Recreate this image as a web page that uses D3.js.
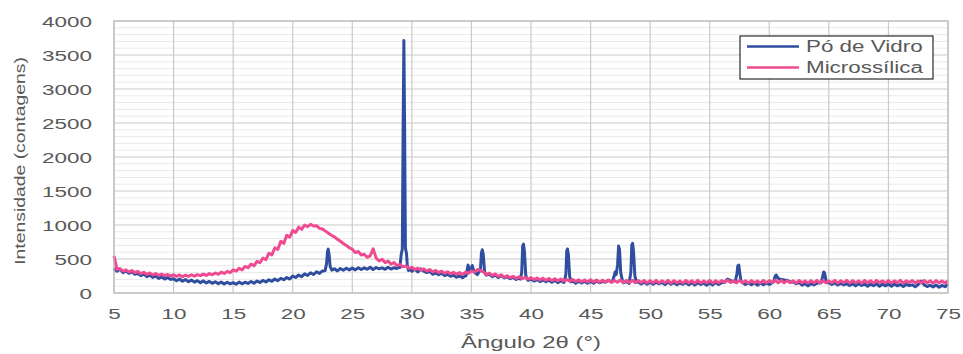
<!DOCTYPE html>
<html>
<head>
<meta charset="utf-8">
<script src="https://cdn.jsdelivr.net/npm/d3@7"></script>
<style>
  body { margin: 0; background: #fff; }
  svg { display: block; }
  .tick-label { font-family: "Liberation Sans", Arial, sans-serif; fill: #595959; }
</style>
</head>
<body>
<svg id="chart" width="963" height="354"></svg>
<script>
// 2θ grid: 5° .. 75° in steps of 0.25°
const angleGrid = d3.range(0, 281).map(i => 5 + i * 0.25);

// Pó de Vidro, background
const vidroBase = [
  365, 320, 350, 300, 325, 290, 310, 275, 290, 255, 280, 240, 262, 230, 250, 215, 238, 205, 228, 200,
  210, 180, 205, 172, 198, 165, 190, 160, 182, 152, 178, 148, 170, 142, 165, 138, 160, 132, 158, 135,
  152, 128, 160, 135, 158, 140, 170, 145, 175, 155, 185, 162, 195, 172, 205, 182, 215, 195, 228, 205,
  250, 228, 265, 240, 282, 258, 298, 272, 312, 288, 325, 300, 330, 320, 355, 325, 360, 335, 365, 340,
  368, 340, 372, 345, 370, 350, 378, 345, 375, 355, 370, 348, 378, 352, 372, 360, 385, 355, 375, 365,
  320, 350, 310, 355, 320, 300, 318, 275, 295, 268, 290, 255, 275, 245, 262, 232, 250, 225, 255, 250,
  300, 310, 270, 300, 310, 262, 275, 240, 262, 228, 255, 222, 240, 210, 230, 200, 220, 195, 212, 185,
  205, 175, 200, 168, 192, 165, 188, 158, 185, 152, 182, 155, 178, 150, 175, 145, 172, 148, 170, 142,
  172, 145, 175, 150, 168, 160, 185, 162, 190, 158, 180, 150, 170, 140, 165, 135, 162, 132, 160, 130,
  160, 128, 158, 135, 155, 125, 160, 130, 155, 122, 150, 128, 155, 120, 152, 118, 150, 125, 148, 115,
  150, 118, 155, 125, 150, 160, 205, 180, 165, 160, 160, 155, 125, 148, 120, 150, 115, 148, 122, 145,
  125, 152, 230, 220, 200, 190, 188, 160, 165, 135, 155, 115, 140, 105, 138, 120, 145, 150, 250, 200,
  155, 125, 148, 118, 140, 120, 138, 110, 135, 105, 138, 112, 132, 100, 130, 108, 135, 98, 128, 105,
  130, 98, 132, 105, 125, 95, 128, 108, 120, 92, 125, 175, 120, 95, 115, 90, 118, 85, 112, 92,
  130
];

// Pó de Vidro, crystalline peaks (finer sampling)
const vidroPeakAngles = [
  [22.72, 22.84, 22.92, 22.98, 23.05, 23.14, 23.28],
  [29.0, 29.1, 29.2, 29.27, 29.33, 29.39, 29.46, 29.55, 29.62, 29.72],
  [34.55, 34.63, 34.72, 34.84, 34.95, 35.07, 35.2, 35.35],
  [35.6, 35.75, 35.84, 35.91, 35.99, 36.1, 36.2],
  [39.1, 39.22, 39.3, 39.37, 39.45, 39.56, 39.68],
  [42.8, 42.93, 43.0, 43.06, 43.14, 43.24, 43.36],
  [46.85, 46.98, 47.06, 47.15, 47.27, 47.35, 47.43, 47.53, 47.68],
  [48.25, 48.38, 48.46, 48.53, 48.6, 48.72, 48.85],
  [57.15, 57.28, 57.36, 57.44, 57.52, 57.62, 57.72],
  [60.35, 60.48, 60.58, 60.7, 60.85],
  [64.35, 64.48, 64.57, 64.65, 64.76, 64.9]
];
const vidroPeakValues = [
  [328, 430, 610, 645, 570, 390, 336],
  [375, 560, 650, 2500, 3715, 2500, 660, 580, 400, 330],
  [255, 330, 410, 320, 350, 405, 320, 290],
  [300, 335, 590, 635, 570, 320, 270],
  [205, 300, 690, 718, 610, 260, 200],
  [165, 280, 620, 648, 560, 250, 165],
  [180, 250, 310, 270, 420, 690, 640, 300, 175],
  [165, 300, 700, 730, 620, 250, 160],
  [170, 280, 400, 410, 300, 180, 150],
  [160, 240, 265, 225, 205],
  [150, 240, 310, 290, 180, 150]
];

// Microssílica (amorphous hump around 21°)
const microValues = [
  545, 345, 360, 320, 340, 310, 330, 298, 318, 285, 305, 275, 295, 268, 285, 260, 278, 255, 272, 250,
  268, 245, 265, 240, 262, 245, 268, 248, 270, 255, 278, 258, 285, 268, 295, 275, 305, 288, 318, 298,
  340, 322, 362, 340, 390, 372, 425, 400, 465, 445, 515, 490, 585, 560, 665, 640, 760, 730, 848, 820,
  920, 890, 968, 935, 1000, 975, 1010, 985, 990, 950, 940, 910, 880, 850, 825, 790, 760, 728, 700, 665,
  645, 595, 610, 560, 570, 525, 545, 650, 515, 470, 495, 448, 470, 425, 448, 402, 420, 385, 398, 362,
  378, 345, 365, 335, 355, 322, 345, 310, 332, 300, 322, 290, 312, 282, 305, 275, 300, 272, 305, 290,
  325, 305, 345, 335, 310, 270, 292, 258, 280, 245, 268, 232, 255, 225, 245, 215, 238, 208, 232, 202,
  225, 198, 220, 192, 215, 188, 212, 182, 208, 180, 205, 175, 200, 172, 198, 168, 195, 165, 192, 162,
  195, 162, 190, 158, 188, 160, 192, 155, 185, 158, 190, 152, 185, 155, 188, 150, 182, 155, 185, 148,
  182, 150, 185, 148, 180, 152, 185, 145, 182, 150, 178, 146, 184, 150, 180, 145, 185, 148, 178, 150,
  184, 145, 180, 150, 182, 158, 190, 155, 180, 148, 185, 150, 180, 146, 182, 150, 178, 148, 184, 152,
  182, 155, 190, 150, 185, 148, 182, 152, 180, 145, 184, 150, 178, 148, 182, 150, 186, 145, 180, 152,
  178, 150, 184, 146, 180, 152, 185, 148, 182, 150, 178, 145, 184, 150, 180, 146, 185, 152, 178, 150,
  182, 148, 178, 152, 185, 146, 180, 155, 182, 150, 178, 148, 184, 152, 180, 146, 182, 150, 178, 148,
  180
];

const seriesNames = ["Pó de Vidro", "Microssílica"];
const seriesColors = ["#2f4e9f", "#ee4b91"];
const xTicks = d3.range(5, 76, 5);
const yTicks = d3.range(0, 4001, 500);
const yMinorTicks = d3.range(0, 4001, 100);

const LEFT = 114, RIGHT = 948, TOP = 21, BOTTOM = 293;
const SX = 1.45; // the picture is stretched horizontally, text included

const svg = d3.select("#chart");

const x = d3.scaleLinear().domain([5, 75]).range([LEFT, RIGHT]);
const y = d3.scaleLinear().domain([0, 4000]).range([BOTTOM, TOP]);

const mergePeaks = (grid, base, peakA, peakV) => {
  const windows = peakA.map(a => [d3.min(a), d3.max(a)]);
  const pts = grid.map((a, i) => [a, base[i]])
    .filter(([a]) => !windows.some(([lo, hi]) => a > lo && a < hi));
  peakA.forEach((g, j) => g.forEach((a, k) => pts.push([a, peakV[j][k]])));
  return pts.sort((p, q) => p[0] - q[0]);
};

const vidro = mergePeaks(angleGrid, vidroBase, vidroPeakAngles, vidroPeakValues);
const micro = angleGrid.map((a, i) => [a, microValues[i]]);

// grid
const grid = svg.append("g");
grid.selectAll("line.minor").data(yMinorTicks.filter(v => v % 500 !== 0)).enter()
  .append("line").attr("class", "minor")
  .attr("x1", LEFT).attr("x2", RIGHT)
  .attr("y1", d => y(d)).attr("y2", d => y(d))
  .attr("stroke", "#e9e9e9").attr("stroke-width", 1);
grid.selectAll("line.major").data(yTicks).enter()
  .append("line").attr("class", "major")
  .attr("x1", LEFT).attr("x2", RIGHT)
  .attr("y1", d => y(d)).attr("y2", d => y(d))
  .attr("stroke", "#cacaca").attr("stroke-width", 1.2);
grid.selectAll("line.vert").data(xTicks).enter()
  .append("line").attr("class", "vert")
  .attr("x1", d => x(d)).attr("x2", d => x(d))
  .attr("y1", TOP).attr("y2", BOTTOM)
  .attr("stroke", "#cacaca").attr("stroke-width", 1.2);

// series
const line = d3.line().x(d => x(d[0])).y(d => y(d[1]));
[vidro, micro].forEach((data, i) => {
  svg.append("path")
    .datum(data)
    .attr("d", line)
    .attr("fill", "none")
    .attr("stroke", seriesColors[i])
    .attr("stroke-width", 3)
    .attr("stroke-linejoin", "round");
});

// tick labels
const yAxis = svg.append("g").attr("transform", `translate(${LEFT},0)`)
  .call(d3.axisLeft(y).tickValues(yTicks).tickSize(0).tickFormat(d3.format("d")));
yAxis.select(".domain").remove();
yAxis.selectAll("text")
  .attr("class", "tick-label")
  .attr("x", 0).attr("dy", "0.35em")
  .attr("transform", `translate(-22,0) scale(${SX},1)`)
  .style("font-size", "15.5px");

const xAxis = svg.append("g").attr("transform", `translate(0,${BOTTOM})`)
  .call(d3.axisBottom(x).tickValues(xTicks).tickSize(0));
xAxis.select(".domain").remove();
xAxis.selectAll("text")
  .attr("class", "tick-label")
  .attr("y", 0).attr("dy", 0)
  .attr("transform", `translate(0,25.5) scale(${SX},1)`)
  .style("font-size", "15.5px");

svg.selectAll("g.tick text").attr("fill", "#595959").style("font-family", '"Liberation Sans", Arial, sans-serif');

// plot border
svg.append("rect")
  .attr("x", LEFT).attr("y", TOP)
  .attr("width", RIGHT - LEFT).attr("height", BOTTOM - TOP)
  .attr("fill", "none").attr("stroke", "#bdbdbd").attr("stroke-width", 1.2);

// axis titles
svg.append("text")
  .attr("class", "tick-label")
  .attr("text-anchor", "middle")
  .attr("transform", `translate(${(LEFT + RIGHT) / 2},348) scale(${SX},1)`)
  .style("font-size", "16.5px")
  .text("Ângulo  2θ (°)");

svg.append("text")
  .attr("class", "tick-label")
  .attr("text-anchor", "middle")
  .attr("transform", `translate(24.5,161) rotate(-90) scale(1.25,1)`)
  .style("font-size", "15.5px")
  .text("Intensidade (contagens)");

// legend
const legend = svg.append("g").attr("transform", "translate(740,36)");
legend.append("rect")
  .attr("width", 193).attr("height", 43)
  .attr("fill", "#fff").attr("stroke", "#000").attr("stroke-width", 1);
seriesNames.forEach((name, i) => {
  const row = legend.append("g").attr("transform", `translate(0,${10.5 + i * 21})`);
  row.append("line")
    .attr("x1", 7).attr("x2", 59)
    .attr("stroke", seriesColors[i]).attr("stroke-width", 2.4);
  row.append("text")
    .attr("class", "tick-label")
    .attr("transform", `translate(66,5.5) scale(1.4,1)`)
    .style("font-size", "16px")
    .text(name);
});
</script>
</body>
</html>
